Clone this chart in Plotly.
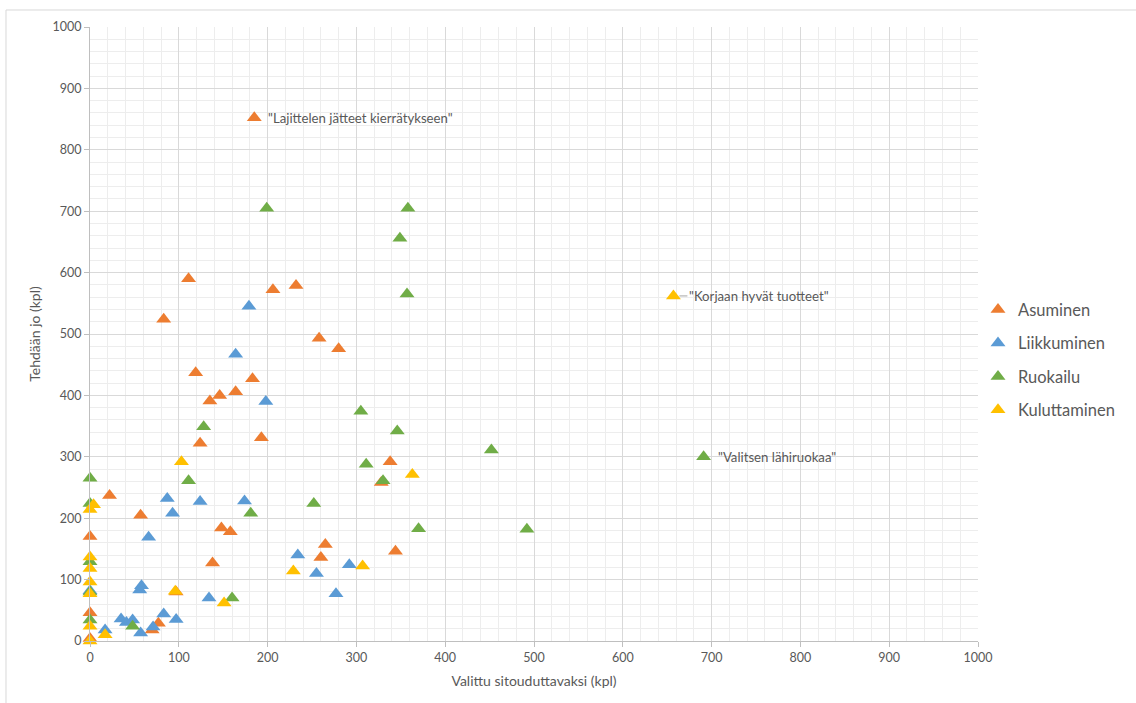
import plotly.graph_objects as go

# Series: x = "Valittu sitouduttavaksi (kpl)", y = "Tehdään jo (kpl)"
asuminen_x = [185, 111, 206, 232, 83, 258, 280, 119, 183, 164, 146, 135, 193, 124, 338, 328,
              22, 57, 148, 158, 265, 260, 344, 138, 0, 0, 0, 77, 70, 97]
asuminen_y = [852, 590, 572, 579, 524, 493, 476, 437, 427, 406, 400, 391, 331, 322, 292, 258,
              237, 205, 184, 178, 157, 136, 146, 127, 170, 46, 4, 29, 18, 80]

liikkuminen_x = [179, 164, 198, 87, 124, 174, 93, 66, 234, 255, 292, 277, 58, 56, 134, 83,
                 97, 35, 48, 41, 71, 17, 57, 0]
liikkuminen_y = [545, 467, 390, 232, 227, 228, 208, 169, 140, 110, 124, 77, 90, 83, 70, 44,
                 35, 36, 34, 30, 23, 18, 13, 82]

ruokailu_x = [199, 358, 349, 357, 305, 346, 128, 311, 330, 452, 111, 252, 181, 370, 492, 691,
              160, 48, 0, 0, 0, 0, 0]
ruokailu_y = [705, 705, 656, 565, 374, 342, 349, 288, 261, 311, 261, 224, 208, 183, 182, 300,
              70, 24, 265, 224, 129, 80, 34]

kuluttaminen_x = [657, 103, 363, 4, 0, 0, 0, 0, 0, 0, 0, 17, 96, 151, 229, 307]
kuluttaminen_y = [562, 292, 271, 222, 214, 137, 118, 96, 77, 24, 0, 10, 81, 62, 114, 122]

series_names = ["Asuminen", "Liikkuminen", "Ruokailu", "Kuluttaminen"]
series_x = [asuminen_x, liikkuminen_x, ruokailu_x, kuluttaminen_x]
series_y = [asuminen_y, liikkuminen_y, ruokailu_y, kuluttaminen_y]
series_colors = ["#ED7D31", "#5B9BD5", "#70AD47", "#FFC000"]

# Labelled points: (series index, point index, text)
label_series = [0, 3, 2]
label_points = [0, 0, 15]
label_texts = ['"Lajittelen jätteet kierrätykseen"', '"Korjaan hyvät tuotteet"', '"Valitsen lähiruokaa"']
label_leader = [False, True, False]

FONT = "Lato, 'Open Sans', sans-serif"
TEXT_COLOR = "#595959"

fig = go.Figure()
for name, xs, ys, col in zip(series_names, series_x, series_y, series_colors):
    fig.add_trace(go.Scatter(
        x=xs, y=ys, mode="markers", name=name, legendgroup=name,
        marker=dict(symbol="triangle-up", size=13, color=col, line=dict(width=0)),
        cliponaxis=False,
    ))

annotations = []
for s, p, txt, lead in zip(label_series, label_points, label_texts, label_leader):
    ax_x = series_x[s][p]
    ax_y = series_y[s][p]
    if lead:
        annotations.append(dict(
            x=ax_x, y=ax_y, xref="x", yref="y", text=txt, showarrow=True,
            ax=14, ay=0, xanchor="left", arrowhead=0, arrowwidth=1,
            arrowcolor="#a6a6a6", standoff=6,
            font=dict(family=FONT, size=13.2, color=TEXT_COLOR),
        ))
    else:
        annotations.append(dict(
            x=ax_x, y=ax_y, xref="x", yref="y", text=txt, showarrow=False,
            xanchor="left", xshift=12,
            font=dict(family=FONT, size=13.2, color=TEXT_COLOR),
        ))

axis_common = dict(
    range=[0, 1000], dtick=100, tick0=0,
    showgrid=True, gridcolor="#d9d9d9", gridwidth=1,
    minor=dict(dtick=20, showgrid=True, gridcolor="#ededed", gridwidth=1, ticks=""),
    showline=True, linecolor="#bfbfbf", linewidth=1,
    ticks="outside", ticklen=5, tickcolor="#bfbfbf",
    zeroline=False,
    tickfont=dict(family=FONT, size=12.5, color=TEXT_COLOR),
    fixedrange=True,
)

fig.update_layout(
    width=1136, height=703,
    margin=dict(l=90, r=158, t=27, b=62, autoexpand=False),
    paper_bgcolor="white", plot_bgcolor="white",
    font=dict(family=FONT, color=TEXT_COLOR),
    xaxis=dict(axis_common, title=dict(text="Valittu sitouduttavaksi (kpl)",
                                       font=dict(family=FONT, size=14, color=TEXT_COLOR),
                                       standoff=12)),
    yaxis=dict(axis_common, title=dict(text="Tehdään jo (kpl)",
                                       font=dict(family=FONT, size=14, color=TEXT_COLOR),
                                       standoff=8)),
    legend=dict(x=1.0, y=0.458, xanchor="left", yanchor="middle",
                font=dict(family=FONT, size=16.5, color=TEXT_COLOR),
                tracegroupgap=9, itemwidth=30, bgcolor="rgba(0,0,0,0)"),
    annotations=annotations,
    shapes=[dict(type="rect", xref="paper", yref="paper",
                 x0=-0.0946, x1=1.3, y0=-0.3, y1=1.0277,
                 line=dict(color="#d9d9d9", width=1), layer="below")],
    showlegend=True,
)

fig.write_html("out.html")
